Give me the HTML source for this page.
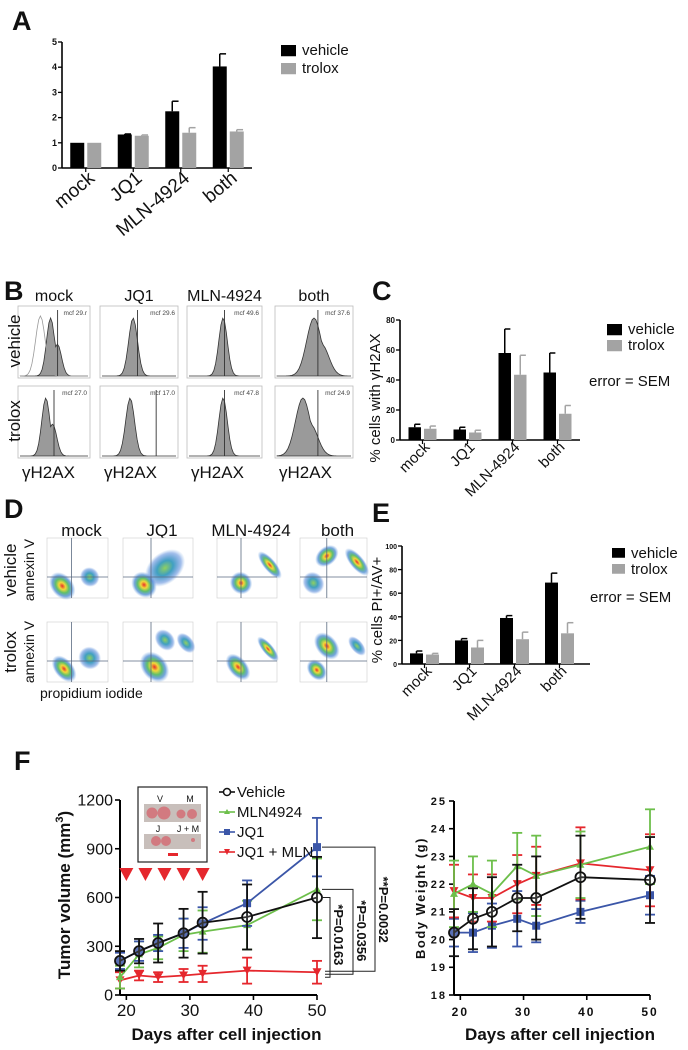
<!DOCTYPE html>
<html><head><meta charset="utf-8">
<style>
html,body{margin:0;padding:0;background:#fff;}
svg{display:block;font-family:"Liberation Sans",Arial,sans-serif;}
</style></head>
<body>
<svg id="fig" width="688" height="1050" viewBox="0 0 688 1050" xmlns="http://www.w3.org/2000/svg">
<defs>
<radialGradient id="blob" cx="50%" cy="50%" r="50%">
<stop offset="0" stop-color="#e8302a"/>
<stop offset="0.25" stop-color="#f2d83a"/>
<stop offset="0.5" stop-color="#5fc06a"/>
<stop offset="0.75" stop-color="#3a7fd0" stop-opacity="0.7"/>
<stop offset="1" stop-color="#6aa0e0" stop-opacity="0"/>
</radialGradient>
<radialGradient id="blobw" cx="50%" cy="50%" r="50%">
<stop offset="0" stop-color="#8fd060"/>
<stop offset="0.4" stop-color="#40a0c0"/>
<stop offset="0.8" stop-color="#4a80d8" stop-opacity="0.5"/>
<stop offset="1" stop-color="#6aa0e0" stop-opacity="0"/>
</radialGradient>
</defs>
</svg>
<script>
// ---------- data ----------
const catsA = ["mock","JQ1","MLN-4924","both"];
const vehA = [1.0,1.33,2.25,4.03];
const vehAErr = [0,0.02,0.4,0.5];
const troA = [1.0,1.28,1.4,1.45];
const troAErr = [0,0.03,0.2,0.07];
const ticksA = [0,1,2,3,4,5];

const catsC = ["mock","JQ1","MLN-4924","both"];
const vehC = [8.5,7,58,45];
const vehCErr = [2,1.5,16,13];
const troC = [7.5,5,43.5,17.5];
const troCErr = [1.8,1.5,13,5.5];
const ticksC = [0,20,40,60,80];

const catsE = ["mock","JQ1","MLN-4924","both"];
const vehE = [9,20,39,69];
const vehEErr = [2,1.5,2,8];
const troE = [8,14,21,26];
const troEErr = [1,6,6,9];
const ticksE = [0,20,40,60,80,100];

const days = [19,22,25,29,32,39,50];
const tumVeh = [210,270,320,380,445,480,600];
const tumVehErr = [60,75,120,150,190,200,250];
const tumMLN = [110,250,290,370,390,430,650];
const tumMLNErr = [70,80,70,100,130,150,190];
const tumJQ1 = [210,270,320,380,440,565,910];
const tumJQ1Err = [50,60,50,90,100,140,180];
const tumBoth = [90,120,110,120,130,150,140];
const tumBothErr = [50,30,30,40,50,80,70];
const tumTicks = [0,300,600,900,1200];
const dayTicks = [20,30,40,50];
const doseDays = [20,23,26,29,32];

const bwVeh = [20.25,20.75,21,21.5,21.5,22.25,22.15];
const bwVehErr = [0.85,1.1,1.25,1.2,1.5,1.5,1.55];
const bwMLN = [21.65,22,21.65,22.65,22.3,22.7,23.35];
const bwMLNErr = [1.2,1,1.2,1.2,1.45,1.2,1.35];
const bwJQ1 = [20.25,20.25,20.5,20.75,20.5,21,21.6];
const bwJQ1Err = [0.5,0.7,0.8,1.0,0.6,0.4,0.7];
const bwBoth = [21.75,21.5,21.5,22,22.3,22.75,22.5];
const bwBothErr = [0.95,0.85,0.85,1.05,1.05,1.3,1.3];
const bwTicks = [18,19,20,21,22,23,24,25];

const histLabels = ["mock","JQ1","MLN-4924","both"];
const mcfVeh = ["mcf 29.r","mcf 29.6","mcf 49.6","mcf 37.6"];
const mcfTro = ["mcf 27.0","mcf 17.0","mcf 47.8","mcf 24.9"];
const peakVeh = [0.45,0.42,0.48,0.5];
const peakTro = [0.38,0.38,0.48,0.35];
const lineVeh = [0.55,0.48,0.5,0.55];
const lineTro = [0.5,0.72,0.5,0.55];

// ---------- helpers ----------
const NS = "http://www.w3.org/2000/svg";
const svg = document.getElementById('fig');
function mk(tag, attrs, parent, text){
  const e = document.createElementNS(NS, tag);
  for (const k in attrs) e.setAttribute(k, attrs[k]);
  if (text !== undefined) e.textContent = text;
  (parent || svg).appendChild(e);
  return e;
}
function txt(x,y,s,size,opts,parent){
  opts = opts||{};
  const a = {x:x,y:y,'font-size':size,fill:opts.fill||'#111'};
  if(opts.anchor) a['text-anchor']=opts.anchor;
  if(opts.weight) a['font-weight']=opts.weight;
  if(opts.tr) a.transform=opts.tr;
  if(opts.ls) a['letter-spacing']=opts.ls;
  const t = mk('text',a,parent,s);
  return t;
}

// panel letters
[["A",12,30],["B",4,300],["C",372,300],["D",4,518],["E",372,522],["F",14,770]].forEach(p=>{
  const t = txt(p[1],p[2],p[0],27,{weight:'bold'});
  
  
});

// ---------- bar chart ----------
function barChart(name, g0, cats, veh, vehErr, tro, troErr, ticks, cfg){
  const g = mk('g',{});
  
  
  const ymax = ticks[ticks.length-1];
  const y = v => cfg.y0 - (v/ymax)*(cfg.y0-cfg.y1);
  const x = i => cfg.x0 + cfg.gap*0.5 + i*cfg.gap;
  mk('line',{x1:cfg.x0,y1:cfg.y0,x2:cfg.x0,y2:cfg.y1,stroke:'#000','stroke-width':1.6},g);
  mk('line',{x1:cfg.x0,y1:cfg.y0,x2:cfg.xend,y2:cfg.y0,stroke:'#000','stroke-width':1.6},g);
  ticks.forEach(t=>{
    mk('line',{x1:cfg.x0-4,y1:y(t),x2:cfg.x0,y2:y(t),stroke:'#000','stroke-width':1.3},g);
    const tl = txt(cfg.x0-5,y(t)+3,String(t),cfg.tick,{anchor:'end',weight:'bold'},g);
    
    
  });
  cats.forEach((c,i)=>{
    const cx = x(i);
    mk('line',{x1:cx,y1:cfg.y0,x2:cx,y2:cfg.y0+4,stroke:'#000','stroke-width':1.2},g);
    [[veh,vehErr,'#000',-1],[tro,troErr,'#a3a3a3',1]].forEach(s=>{
      const v=s[0][i], e=s[1][i];
      const bx = s[3]<0 ? cx-cfg.off-cfg.bw : cx+cfg.off;
      const r = mk('rect',{x:bx,y:y(v),width:cfg.bw,height:cfg.y0-y(v),fill:s[2]},g);
      
      
      if(e>0){
        const mx = bx+cfg.bw/2;
        mk('line',{x1:mx,y1:y(v),x2:mx,y2:y(v+e),stroke:s[2],'stroke-width':1.5},g);
        mk('line',{x1:mx,y1:y(v+e),x2:mx+cfg.bw*0.45,y2:y(v+e),stroke:s[2],'stroke-width':1.5},g);
      }
    });
    const lbl = txt(cx+cfg.lx,cfg.y0+cfg.ly,c,cfg.lab,{anchor:'end',tr:`rotate(${cfg.rot} ${cx+cfg.lx} ${cfg.y0+cfg.ly})`},g);
    
    
  });
  const lg = mk('g',{},g);
  
  
  mk('rect',{x:cfg.lgx,y:cfg.lgy-5,width:cfg.lgs,height:cfg.lgs*0.75,fill:'#000'},lg);
  mk('rect',{x:cfg.lgx,y:cfg.lgy+cfg.lgd-5,width:cfg.lgs,height:cfg.lgs*0.75,fill:'#a3a3a3'},lg);
  txt(cfg.lgx+cfg.lgs+6,cfg.lgy+5,'vehicle',cfg.lgf,{},lg);
  txt(cfg.lgx+cfg.lgs+6,cfg.lgy+cfg.lgd+5,'trolox',cfg.lgf,{},lg);
  if(cfg.sem){
    const s = txt(cfg.sem[0],cfg.sem[1],'error = SEM',cfg.lgf,{},g);
    
    
  }
  if(cfg.ytitle){
    const t = txt(cfg.ytitle[0],cfg.ytitle[1],cfg.ytitle[2],cfg.ytf,{anchor:'middle',tr:`rotate(-90 ${cfg.ytitle[0]} ${cfg.ytitle[1]})`},g);
    
    
  }
  return g;
}

barChart('chart-a',null,catsA,vehA,vehAErr,troA,troAErr,ticksA,
  {x0:62,x1:0,y0:168,y1:42,xend:252,gap:47.5,bw:14,off:1.5,tick:9,lab:19,lx:10,ly:12,rot:-40,
   lgx:281,lgy:50,lgs:15,lgd:18,lgf:15});
barChart('chart-c',null,catsC,vehC,vehCErr,troC,troCErr,ticksC,
  {x0:400,y0:440,y1:320,xend:580,gap:45,bw:12.5,off:1.5,tick:8,lab:15,lx:8,ly:8,rot:-45,
   lgx:607,lgy:329,lgs:15,lgd:16,lgf:15,sem:[589,386],ytitle:[380,398,'% cells with γH2AX'],ytf:15});
barChart('chart-e',null,catsE,vehE,vehEErr,troE,troEErr,ticksE,
  {x0:402,y0:664,y1:546,xend:590,gap:45,bw:13,off:1.5,tick:7,lab:15,lx:8,ly:8,rot:-45,
   lgx:612,lgy:553,lgs:13,lgd:16,lgf:15,sem:[590,602],ytitle:[382,610,'% cells PI+/AV+'],ytf:15});

// ---------- panel B histograms ----------
const colsB = [[18,90],[100,178],[187,262],[275,353]];
const rowsB = [[306,378],[386,458]];
colsB.forEach((c,i)=>{
  const h = txt((c[0]+c[1])/2,301,histLabels[i],16,{anchor:'middle'});
  
  
  const gx = txt(c[0]+4,478,'γH2AX',17,{});
  
  
  rowsB.forEach((r,j)=>{
    const g = mk('g',{});
    
    
    const w=c[1]-c[0], hgt=r[1]-r[0];
    mk('rect',{x:c[0],y:r[0],width:w,height:hgt,fill:'#fff',stroke:'#bbb','stroke-width':0.8},g);
    const pk = j? peakTro[i] : peakVeh[i];
    const sd = (i==3)? 0.1 : 0.06;
    let d = `M${c[0]+2},${r[1]-2}`;
    for(let k=0;k<=40;k++){
      const f=k/40;
      let v=Math.exp(-Math.pow((f-pk)/sd,2)/2);
      if(i==0||i==3) v = Math.max(v, 0.55*Math.exp(-Math.pow((f-pk-0.1)/sd,2)/2));
      d+=` L${c[0]+2+f*(w-4)},${r[1]-2-v*(hgt-14)}`;
    }
    d+=' Z';
    mk('path',{d:d,fill:'#9a9a9a',stroke:'#333','stroke-width':0.8},g);
    if(i==0&&j==0){
      let d2=`M${c[0]+2},${r[1]-2}`;
      for(let k=0;k<=40;k++){const f=k/40;const v=Math.exp(-Math.pow((f-0.3)/0.07,2)/2);d2+=` L${c[0]+2+f*(w-4)},${r[1]-2-v*(hgt-12)}`;}
      mk('path',{d:d2,fill:'none',stroke:'#999','stroke-width':0.8},g);
    }
    const lx = c[0]+(j?lineTro[i]:lineVeh[i])*w;
    mk('line',{x1:lx,y1:r[0]+4,x2:lx,y2:r[1]-2,stroke:'#333','stroke-width':0.9},g);
    txt(c[1]-3,r[0]+9,j?mcfTro[i]:mcfVeh[i],6.5,{anchor:'end',fill:'#444'},g);
  });
});
[["vehicle",20,341],["trolox",20,421]].forEach(l=>{
  const t=txt(l[1],l[2],l[0],17,{anchor:'middle',tr:`rotate(-90 ${l[1]} ${l[2]})`});
  
  
});

// ---------- panel D scatter ----------
const colsD = [[47,108],[123,193],[217,277],[300,367]];
const rowsD = [[538,598],[622,682]];
const blobsD = [
  [[[0.25,0.8,0.14,0.2,1],[0.7,0.65,0.12,0.13,0]],[[0.3,0.78,0.13,0.18,1],[0.6,0.5,0.25,0.2,0]],[[0.4,0.75,0.14,0.15,1],[0.88,0.45,0.08,0.22,1]],[[0.4,0.3,0.15,0.12,1],[0.85,0.4,0.08,0.22,1],[0.2,0.75,0.12,0.15,0]]],
  [[[0.28,0.78,0.12,0.2,1],[0.7,0.6,0.14,0.15,0]],[[0.45,0.75,0.14,0.22,1],[0.6,0.3,0.1,0.15,0],[0.9,0.35,0.08,0.15,0]],[[0.35,0.75,0.12,0.2,1],[0.85,0.45,0.07,0.2,1]],[[0.4,0.4,0.12,0.2,1],[0.25,0.8,0.1,0.15,1],[0.85,0.4,0.07,0.15,0]]]
];
colsD.forEach((c,i)=>{
  const h = txt((c[0]+c[1])/2+4,536,histLabels[i],17,{anchor:'middle'});
  
  
  rowsD.forEach((r,j)=>{
    const g = mk('g',{});
    
    
    const w=c[1]-c[0], hgt=r[1]-r[0];
    mk('rect',{x:c[0],y:r[0],width:w,height:hgt,fill:'#fff',stroke:'#ccc','stroke-width':0.6},g);
    blobsD[j][i].forEach(b=>{
      mk('ellipse',{cx:c[0]+b[0]*w,cy:r[0]+b[1]*hgt,rx:b[2]*w*1.3,ry:b[3]*hgt*1.3,fill:b[4]?'url(#blob)':'url(#blobw)',transform:`rotate(-40 ${c[0]+b[0]*w} ${r[0]+b[1]*hgt})`},g);
    });
    mk('line',{x1:c[0]+0.4*w,y1:r[0],x2:c[0]+0.4*w,y2:r[1],stroke:'#5a6a80','stroke-width':0.8},g);
    mk('line',{x1:c[0],y1:r[0]+0.65*hgt,x2:c[1],y2:r[0]+0.65*hgt,stroke:'#5a6a80','stroke-width':0.8},g);
  });
});
[["vehicle",16,570],["trolox",16,652]].forEach(l=>{
  const t=txt(l[1],l[2],l[0],17,{anchor:'middle',tr:`rotate(-90 ${l[1]} ${l[2]})`});
  
  
});
[[34,570],[34,652]].forEach(p=>{
  const t=txt(p[0],p[1],'annexin V',14,{anchor:'middle',tr:`rotate(-90 ${p[0]} ${p[1]})`});
  
  
});
{const t=txt(40,698,'propidium iodide',14,{});}

// ---------- line charts ----------
function lineChart(name, cfg, series){
  const g = mk('g',{});
  
  
  const X = d => cfg.x0 + (d-cfg.dmin)*(cfg.x1-cfg.x0)/(cfg.dmax-cfg.dmin);
  const Y = v => cfg.y0 - (v-cfg.vmin)*(cfg.y0-cfg.y1)/(cfg.vmax-cfg.vmin);
  mk('line',{x1:cfg.x0,y1:cfg.y0,x2:cfg.x0,y2:cfg.y1,stroke:'#000','stroke-width':2},g);
  mk('line',{x1:cfg.x0,y1:cfg.y0,x2:cfg.x1,y2:cfg.y0,stroke:'#000','stroke-width':2},g);
  cfg.yt.forEach(t=>{
    mk('line',{x1:cfg.x0-5,y1:Y(t),x2:cfg.x0,y2:Y(t),stroke:'#000','stroke-width':1.6},g);
    const l=txt(cfg.x0-7,Y(t)+cfg.ytf*0.35,String(t),cfg.ytf,{anchor:'end',weight:cfg.tw,ls:cfg.ls},g);
    
    
  });
  cfg.xt.forEach(t=>{
    mk('line',{x1:X(t),y1:cfg.y0,x2:X(t),y2:cfg.y0+5,stroke:'#000','stroke-width':1.6},g);
    const l=txt(X(t),cfg.y0+21,String(t),cfg.xtf,{anchor:'middle',weight:cfg.tw,ls:cfg.ls},g);
    
    
  });
  const xt=txt((cfg.x0+cfg.x1)/2+8,cfg.y0+45,'Days after cell injection',17,{anchor:'middle',weight:'bold'},g);
  
  
  series.forEach(s=>{
    const sg = mk('g',{},g);
    
    
    days.forEach((d,i)=>{
      const x=X(d), v=s.v[i], e=s.e[i];
      mk('line',{x1:x,y1:Y(v-e),x2:x,y2:Y(v+e),stroke:s.c,'stroke-width':1.8},sg);
      mk('line',{x1:x-5,y1:Y(v-e),x2:x+5,y2:Y(v-e),stroke:s.c,'stroke-width':1.8},sg);
      mk('line',{x1:x-5,y1:Y(v+e),x2:x+5,y2:Y(v+e),stroke:s.c,'stroke-width':1.8},sg);
    });
    const pts = days.map((d,i)=>X(d)+','+Y(s.v[i])).join(' ');
    mk('polyline',{points:pts,fill:'none',stroke:s.c,'stroke-width':1.8},sg);
    days.forEach((d,i)=>{
      const x=X(d), y=Y(s.v[i]);
      let m;
      if(s.m=='o') m=mk('circle',{cx:x,cy:y,r:5,fill:'#fff','fill-opacity':0.15,stroke:s.c,'stroke-width':1.8},sg);
      else if(s.m=='s') m=mk('rect',{x:x-4,y:y-4,width:8,height:8,fill:s.c},sg);
      else if(s.m=='^') m=mk('path',{d:`M${x},${y-4} L${x+4},${y+3} L${x-4},${y+3} Z`,fill:s.c},sg);
      else m=mk('path',{d:`M${x-4.5},${y-4} L${x+4.5},${y-4} L${x},${y+4} Z`,fill:s.c},sg);
      
      
    });
  });
  return {g,X,Y};
}
const BLK='#111', GRN='#6dbf4b', BLU='#3b56a8', RED='#e5272d';
const tum = lineChart('chart-tumor-volume',{x0:120,x1:317,y0:995,y1:800,dmin:19,dmax:50,vmin:0,vmax:1200,yt:tumTicks,xt:dayTicks,ytf:16,xtf:17,tw:'normal',ls:0},[
  {key:'jq1-mln',v:tumBoth,e:tumBothErr,c:RED,m:'v'},
  {key:'mln4924',v:tumMLN,e:tumMLNErr,c:GRN,m:'^'},
  {key:'jq1',v:tumJQ1,e:tumJQ1Err,c:BLU,m:'s'},
  {key:'vehicle',v:tumVeh,e:tumVehErr,c:BLK,m:'o'}
]);
{
  const t=mk('text',{x:70,y:895,'font-size':17,'font-weight':'bold','text-anchor':'middle',transform:'rotate(-90 70 895)',fill:'#111'});
  
  
  t.appendChild(document.createTextNode('Tumor volume (mm'));
  mk('tspan',{dy:-7,'font-size':11},t,'3');
  mk('tspan',{dy:7},t,')');
}
doseDays.forEach(d=>{
  const x=tum.X(d);
  const a=mk('path',{d:`M${x-7},868 L${x+7},868 L${x},881 Z`,fill:RED});
  
  
});
{
  const g=mk('g',{});
  
  
  mk('rect',{x:138,y:787,width:69,height:75,fill:'#fff',stroke:'#222','stroke-width':1.2},g);
  mk('rect',{x:144,y:804,width:57,height:18,fill:'#c8bfbb'},g);
  mk('rect',{x:144,y:834,width:57,height:15,fill:'#c8bfbb'},g);
  [[152,813,5.5],[164,813,6.5],[181,814,4.5],[192,814,5],[156,841,5],[166,841,5],[193,840,2]].forEach(b=>mk('circle',{cx:b[0],cy:b[1],r:b[2],fill:'#d27a80'},g));
  txt(160,802,'V',9,{anchor:'middle'},g); txt(190,802,'M',9,{anchor:'middle'},g);
  txt(158,832,'J',9,{anchor:'middle'},g); txt(188,832,'J + M',9,{anchor:'middle'},g);
  mk('rect',{x:168,y:853,width:10,height:3,fill:RED},g);
}
{
  const g=mk('g',{});
  
  
  const items=[['Vehicle',BLK,'o',792],['MLN4924',GRN,'^',812],['JQ1',BLU,'s',832],['JQ1 + MLN',RED,'v',852]];
  items.forEach(it=>{
    const y=it[3];
    mk('line',{x1:219,y1:y,x2:235,y2:y,stroke:it[1],'stroke-width':1.6},g);
    const x=227;
    if(it[2]=='o') mk('circle',{cx:x,cy:y,r:3.5,fill:'#fff',stroke:it[1],'stroke-width':1.5},g);
    else if(it[2]=='s') mk('rect',{x:x-3,y:y-3,width:6,height:6,fill:it[1]},g);
    else if(it[2]=='^') mk('path',{d:`M${x},${y-3} L${x+3},${y+2} L${x-3},${y+2} Z`,fill:it[1]},g);
    else mk('path',{d:`M${x-3},${y-3} L${x+3},${y-3} L${x},${y+3} Z`,fill:it[1]},g);
    txt(237,y+5,it[0],15,{},g);
  });
}
{
  const g=mk('g',{});
  
  
  const X50=tum.X(50);
  const yB=tum.Y(tumBoth[6]);
  [[tumVeh[6],330,'*P=0.0163',5],[tumMLN[6],353,'*P=0.0356',2],[tumJQ1[6],375,'**P=0.0032',-1]].forEach(b=>{
    const yt=tum.Y(b[0]);
    mk('polyline',{points:`${X50+5},${yt} ${b[1]},${yt} ${b[1]},${yB+b[3]} ${X50+8},${yB+b[3]}`,fill:'none',stroke:'#222','stroke-width':1},g);
    const cy=(yt+yB)/2;
    txt(b[1]+4,cy,b[2],13,{anchor:'middle',weight:'bold',tr:`rotate(90 ${b[1]+4} ${cy})`},g);
  });
}
lineChart('chart-body-weight',{x0:454,x1:650,y0:995,y1:801,dmin:19,dmax:50,vmin:18,vmax:25,yt:bwTicks,xt:dayTicks,ytf:11,xtf:12,tw:'bold',ls:2},[
  {key:'jq1',v:bwJQ1,e:bwJQ1Err,c:BLU,m:'s'},
  {key:'jq1-mln',v:bwBoth,e:bwBothErr,c:RED,m:'v'},
  {key:'mln4924',v:bwMLN,e:bwMLNErr,c:GRN,m:'^'},
  {key:'vehicle',v:bwVeh,e:bwVehErr,c:BLK,m:'o'}
]);
{
  const t=txt(425,898,'Body Weight (g)',13,{anchor:'middle',weight:'bold',ls:1.5,tr:'rotate(-90 425 898)'});
  
  
}
</script>
</body></html>
